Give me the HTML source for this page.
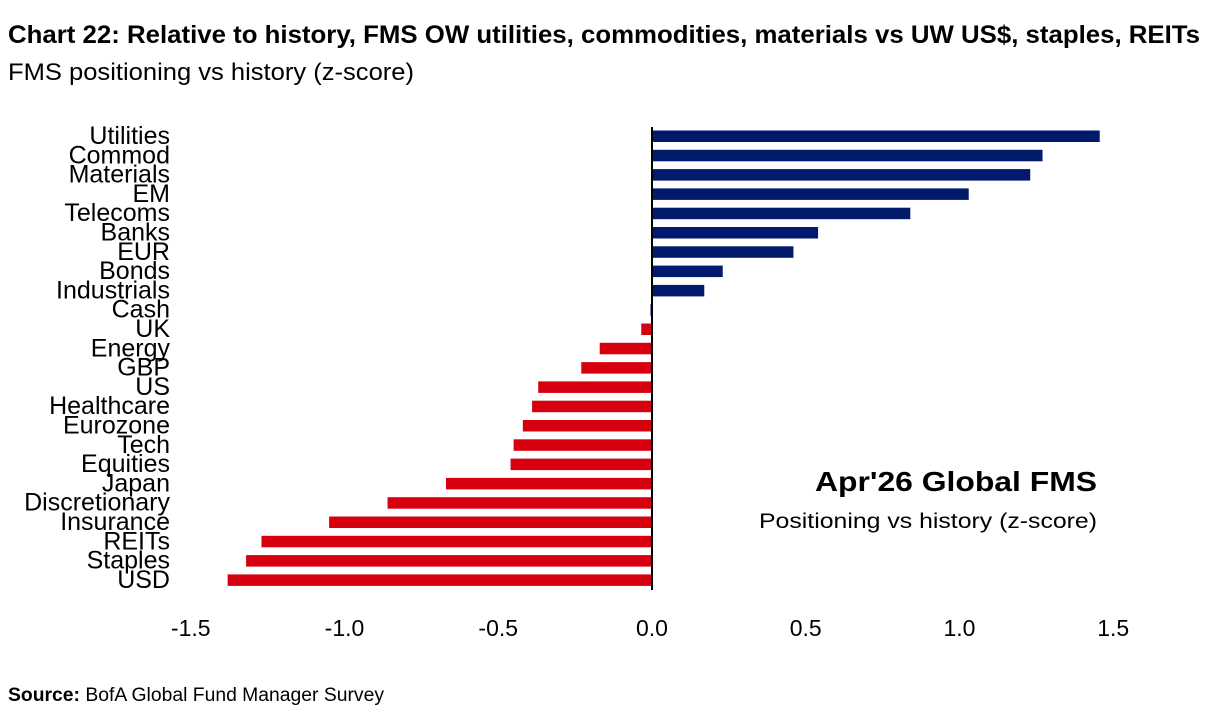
<!DOCTYPE html>
<html><head><meta charset="utf-8"><style>
html,body{margin:0;padding:0;background:#fff;}
svg text{font-family:"Liberation Sans Narrow","Liberation Sans",sans-serif;}
</style></head><body>
<svg id="chart" width="1226" height="716" xmlns="http://www.w3.org/2000/svg">
<text x="8" y="43" font-size="25" font-weight="bold" textLength="1192" lengthAdjust="spacingAndGlyphs">Chart 22: Relative to history, FMS OW utilities, commodities, materials vs UW US$, staples, REITs</text>
<text x="8" y="80" font-size="24" textLength="406" lengthAdjust="spacingAndGlyphs">FMS positioning vs history (z-score)</text>
<g id="bars"></g>
<g id="labels"></g>
<g id="ticks"></g>
<line x1="652" y1="127" x2="652" y2="590" stroke="#000" stroke-width="2"/>
<text x="1097" y="491" font-size="28" font-weight="bold" text-anchor="end" textLength="282" lengthAdjust="spacingAndGlyphs">Apr'26 Global FMS</text>
<text x="1097" y="528" font-size="21" text-anchor="end" textLength="338" lengthAdjust="spacingAndGlyphs">Positioning vs history (z-score)</text>
<text x="8" y="701" font-size="19" textLength="376" lengthAdjust="spacingAndGlyphs"><tspan font-weight="bold">Source:</tspan> BofA Global Fund Manager Survey</text>
</svg>
<script>
const categories=["Utilities","Commod","Materials","EM","Telecoms","Banks","EUR","Bonds","Industrials","Cash","UK","Energy","GBP","US","Healthcare","Eurozone","Tech","Equities","Japan","Discretionary","Insurance","REITs","Staples","USD"];
const values=[1.456,1.27,1.23,1.03,0.84,0.54,0.46,0.23,0.17,-0.005,-0.035,-0.17,-0.23,-0.37,-0.39,-0.42,-0.45,-0.46,-0.67,-0.86,-1.05,-1.27,-1.32,-1.38];
const tickValues=[-1.5,-1.0,-0.5,0.0,0.5,1.0,1.5];
const tickLabels=["-1.5","-1.0","-0.5","0.0","0.5","1.0","1.5"];
const NS="http://www.w3.org/2000/svg";
function xs(v){return 652+v*307.5;}
function ys(i){return 136+i*19.3;}
const bars=document.getElementById('bars'),labels=document.getElementById('labels'),ticks=document.getElementById('ticks');
categories.forEach((c,i)=>{
  const v=values[i];
  const r=document.createElementNS(NS,'rect');
  
  
  const x0=Math.min(xs(0),xs(v)),w=Math.max(Math.abs(xs(v)-xs(0)),1.5);
  r.setAttribute('x',v<0&&w===1.5?xs(0)-1.5:x0);r.setAttribute('y',ys(i)-5.5);
  r.setAttribute('width',w);r.setAttribute('height',11.5);
  r.setAttribute('fill',(v>=0||i<=9)?'#021a6b':'#d6000f');
  bars.appendChild(r);
  const t=document.createElementNS(NS,'text');
  
  
  t.setAttribute('x',170);t.setAttribute('y',ys(i)+8);
  t.setAttribute('text-anchor','end');t.setAttribute('font-size','25');
  t.textContent=c;labels.appendChild(t);
});
tickValues.forEach((v,i)=>{
  const t=document.createElementNS(NS,'text');
  
  
  t.setAttribute('x',xs(v));t.setAttribute('y',636);
  t.setAttribute('text-anchor','middle');t.setAttribute('font-size','23');
  t.textContent=tickLabels[i];ticks.appendChild(t);
});
</script>
</body></html>
